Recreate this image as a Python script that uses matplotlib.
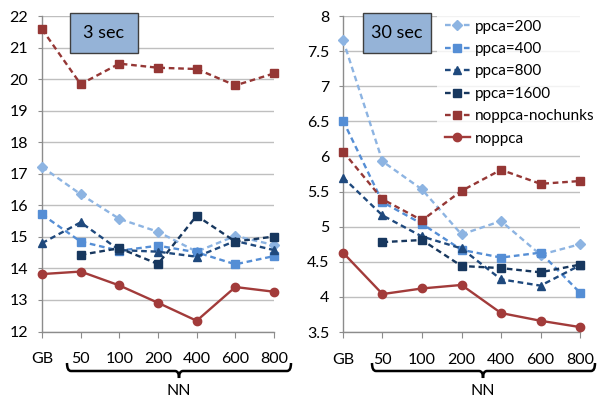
import numpy as np
import matplotlib
matplotlib.use("Agg")
import matplotlib.pyplot as plt
from matplotlib.patches import Rectangle, PathPatch
from matplotlib.path import Path
from matplotlib.ticker import FuncFormatter

plt.rcParams["font.family"] = ["Lato", "DejaVu Sans"]

# Datos
categorias = ["GB", "50", "100", "200", "400", "600", "800"]
series = ["ppca=200", "ppca=400", "ppca=800", "ppca=1600", "noppca-nochunks", "noppca"]

# Panel 3 sec
t3_ppca200 = [17.22, 16.35, 15.57, 15.16, 14.53, 15.03, 14.74]
t3_ppca400 = [15.71, 14.85, 14.56, 14.72, 14.51, 14.13, 14.39]
t3_ppca800 = [14.80, 15.46, 14.58, 14.53, 14.37, 14.87, 14.58]
t3_ppca1600 = [np.nan, 14.43, 14.64, 14.14, 15.67, 14.85, 15.01]
t3_nochunks = [21.58, 19.84, 20.49, 20.36, 20.32, 19.80, 20.18]
t3_noppca = [13.82, 13.90, 13.46, 12.91, 12.34, 13.41, 13.26]

# Panel 30 sec
t30_ppca200 = [7.66, 5.93, 5.53, 4.89, 5.08, 4.60, 4.75]
t30_ppca400 = [6.51, 5.35, 5.04, 4.67, 4.56, 4.63, 4.06]
t30_ppca800 = [5.70, 5.16, 4.86, 4.69, 4.25, 4.16, 4.45]
t30_ppca1600 = [np.nan, 4.78, 4.81, 4.44, 4.41, 4.35, 4.46]
t30_nochunks = [6.07, 5.39, 5.09, 5.51, 5.81, 5.61, 5.65]
t30_noppca = [4.63, 4.04, 4.12, 4.17, 3.77, 3.66, 3.57]

datos_3 = [t3_ppca200, t3_ppca400, t3_ppca800, t3_ppca1600, t3_nochunks, t3_noppca]
datos_30 = [t30_ppca200, t30_ppca400, t30_ppca800, t30_ppca1600, t30_nochunks, t30_noppca]

colores = ["#8DB4E2", "#558ED5", "#1F497D", "#17375E", "#953735", "#A23B3A"]
marcadores = ["D", "s", "^", "s", "s", "o"]
tamanos = [5, 5.5, 5.5, 5.5, 5.5, 6]
dash = (0, (2.4, 1.6))
estilos = [dash, dash, dash, dash, dash, "-"]

W, H = 598, 399
fig = plt.figure(figsize=(W / 100, H / 100), dpi=100)


def px_axes(x0, x1, ytop, ybot):
    return fig.add_axes([x0 / W, 1 - ybot / H, (x1 - x0) / W, (ybot - ytop) / H])


ax1 = px_axes(42, 274, 16, 331.5)
ax2 = px_axes(343, 580, 16, 332)

x = np.arange(len(categorias))
grid_c = "#BFBFBF"
spine_c = "#8C8C8C"

for ax, datos in [(ax1, datos_3), (ax2, datos_30)]:
    for vals, lab, c, m, ms, ls in zip(datos, series, colores, marcadores, tamanos, estilos):
        ax.plot(x, vals, linestyle=ls, color=c, lw=1.7, marker=m, ms=ms,
                label=lab, clip_on=False, zorder=3)
    ax.set_xlim(0, len(categorias) - 1)
    ax.set_xticks(x)
    ax.set_xticklabels(categorias)
    ax.grid(True, axis="y", color=grid_c, lw=1.0, zorder=0)
    for s in ["top", "right"]:
        ax.spines[s].set_visible(False)
    for s in ["left", "bottom"]:
        ax.spines[s].set_color(spine_c)
        ax.spines[s].set_linewidth(1.0)
    ax.tick_params(axis="x", direction="out", length=4, color=spine_c,
                   labelsize=11.5, pad=11)
    ax.tick_params(axis="y", direction="out", length=3, color=spine_c,
                   labelsize=11.5, pad=7)
    ax.set_axisbelow(True)

ax1.set_ylim(12, 22)
ax1.set_yticks(np.arange(12, 23, 1))
ax2.set_ylim(3.5, 8)
ax2.set_yticks(np.arange(3.5, 8.01, 0.5))
ax2.yaxis.set_major_formatter(FuncFormatter(lambda v, p: "%g" % v))

# Leyenda
leg = ax2.legend(loc="upper left", bbox_to_anchor=(437 / W, 1 - 12 / H),
                 bbox_transform=fig.transFigure, borderaxespad=0, borderpad=0.5,
                 frameon=True, fontsize=11, handlelength=1.65, handletextpad=0.3,
                 labelspacing=0.55, numpoints=1, fancybox=False)
leg.get_frame().set_facecolor("white")
leg.get_frame().set_edgecolor("none")
leg.set_zorder(5)


# Cajas de titulo
def caja(x0, x1, ytop, ybot, texto):
    r = Rectangle((x0 / W, 1 - ybot / H), (x1 - x0) / W, (ybot - ytop) / H,
                  transform=fig.transFigure, facecolor="#95B3D7",
                  edgecolor="#3F3F3F", lw=1.0, zorder=6)
    fig.add_artist(r)
    fig.text((x0 + x1) / 2 / W, 1 - (ytop + ybot) / 2 / H, texto,
             ha="center", va="center", fontsize=13, zorder=7)


caja(70, 138, 13, 53, "3 sec")
caja(363, 431, 13, 53, "30 sec")


# Llaves bajo el eje x
def llave(x0, x1, xc, ytop, ymid, ytip):
    r = 4
    pts = [(x0, ytop), (x0, ymid), (x0 + r, ymid), (xc - r, ymid),
           (xc, ymid), (xc, ytip), (xc, ymid), (xc + r, ymid),
           (x1 - r, ymid), (x1, ymid), (x1, ytop)]
    codes = [Path.MOVETO, Path.CURVE3, Path.CURVE3, Path.LINETO,
             Path.CURVE3, Path.CURVE3, Path.CURVE3, Path.CURVE3,
             Path.LINETO, Path.CURVE3, Path.CURVE3]
    pts = [(px / W, 1 - py / H) for px, py in pts]
    fig.add_artist(PathPatch(Path(pts, codes), transform=fig.transFigure,
                             facecolor="none", edgecolor="black", lw=1.8))
    fig.text(xc / W, 1 - 391 / H, "NN", ha="center", va="center", fontsize=11.5)


llave(67, 291, 179, 363, 371, 378)
llave(372, 595, 483, 363, 371, 378)

fig.savefig("out.png", dpi=100)
